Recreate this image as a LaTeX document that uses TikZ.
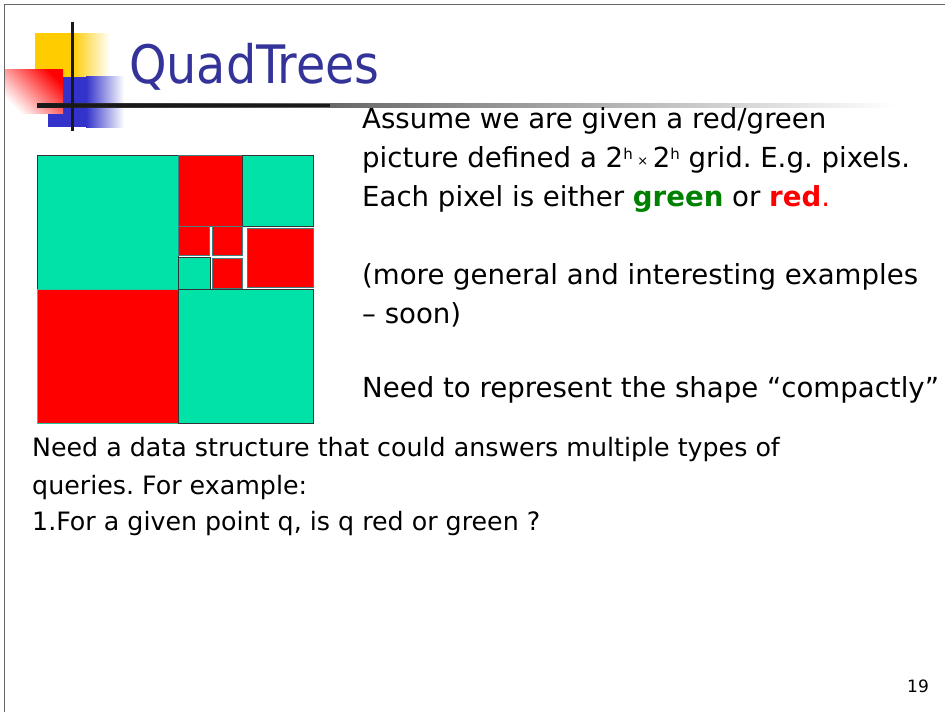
\documentclass[tikz,border=0pt]{standalone}
\usepackage{fontspec}
\setmainfont{DejaVu Sans}
\newfontfamily\titlefont{DejaVu Sans Condensed}
\frenchspacing
\definecolor{qgreen}{RGB}{0,226,168}
\definecolor{qred}{RGB}{255,0,0}
\definecolor{titleblue}{RGB}{51,51,153}
\definecolor{logoyellow}{RGB}{255,204,0}
\definecolor{logoblue}{RGB}{51,51,204}
\definecolor{txtgreen}{RGB}{0,128,0}
\tikzset{
  greencell/.style={fill=qgreen,draw=black!80,line width=0.8pt},
  redcell/.style={fill=qred,draw=teal!50!gray,line width=0.8pt},
  bodytext/.style={anchor=base west,inner sep=0pt,font=\frenchspacing\fontsize{27.6}{33}\selectfont},
  lowtext/.style={anchor=base west,inner sep=0pt,font=\frenchspacing\fontsize{25.3}{30}\selectfont},
}
\newcommand{\supsc}[1]{\raisebox{8pt}{\fontsize{15}{15}\selectfont #1}}
\newcommand{\smallx}{\raisebox{2pt}{\fontsize{13}{13}\selectfont ×}}
\begin{document}
\begin{tikzpicture}[x=1pt,y=-1pt]
\useasboundingbox (0,0) rectangle (945,712);
% slide frame
\draw[black!60,line width=0.8pt] (4,712) -- (4,4) -- (945,4);
% logo
\fill[logoyellow] (35,33) rectangle (72,77);
\shade[left color=logoyellow,right color=white] (72,33) rectangle (110,77);
\fill[logoblue] (48,77) rectangle (92,127);
\shade[left color=logoblue,right color=white] (86,76) rectangle (124,127);
\shade[left color=white,right color=qred,shading angle=135] (5,69) rectangle (63,113);
\shade[left color=black!90,right color=white] (37,103.5) rectangle (895,107);
\fill[black!90] (37,103.5) rectangle (330,107);
\fill[black!90] (70.5,22) rectangle (74,131);
% title
\node[anchor=base west,inner sep=0pt,text=titleblue,font=\titlefont\fontsize{53}{58}\selectfont] (title) at (129,83) {QuadTrees};
% quadtree picture
\draw[greencell] (37,155) rectangle (178,289);
\draw[redcell] (178,155) rectangle (242,226);
\draw[greencell] (242,155) rectangle (313,226);
\draw[redcell] (178,226) rectangle (209,255);
\draw[redcell] (212,226) rectangle (242,255);
\draw[greencell] (178,257) rectangle (210,289);
\draw[redcell] (212,258) rectangle (242,288);
\draw[redcell] (247,228) rectangle (313,287);
\draw[redcell,draw=qgreen!70!gray] (37,289) rectangle (178,423);
\draw[greencell] (178,289) rectangle (313,423);
% right text
\node[bodytext] (t1) at (362,128) {Assume we are given a red/green};
\node[bodytext] (t2) at (362,167) {picture defined a 2\supsc{h}\,\smallx\,2\supsc{h} grid. E.g. pixels.};
\node[bodytext] (t3) at (362,206) {Each pixel is either \textcolor{txtgreen}{\textbf{green}} or \textcolor{qred}{\textbf{red}.}};
\node[bodytext] (t4) at (362,284) {(more general and interesting examples};
\node[bodytext] (t5) at (362,323) {– soon)};
\node[bodytext] (t6) at (362,397) {Need to represent the shape “compactly”};
% lower text
\node[lowtext] (b1) at (32,456) {Need a data structure that could answers multiple types of};
\node[lowtext] (b2) at (32,494) {queries. For example:};
\node[lowtext] (b3) at (32,530) {1.For a given point q, is q red or green ?};
\node[anchor=base west,inner sep=0pt,font=\fontsize{17}{20}\selectfont] (pg) at (907,692) {19};
\end{tikzpicture}
\end{document}
